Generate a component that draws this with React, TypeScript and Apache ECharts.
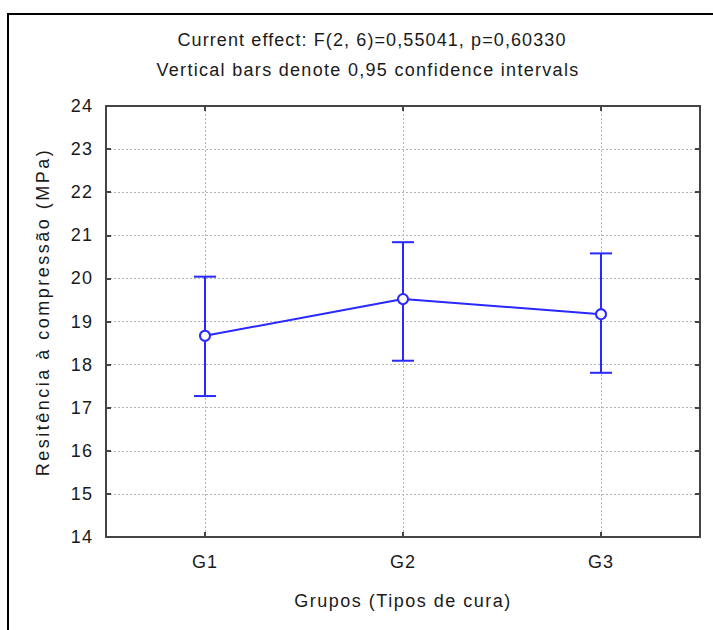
import React, { useEffect, useRef } from "react";
import * as echarts from "echarts";

const categories = ["G1", "G2", "G3"];
const means = [18.67, 19.52, 19.17];
const lowerCI = [17.27, 18.09, 17.81];
const upperCI = [20.04, 20.84, 20.58];
const yTicks = { min: 14, max: 24, interval: 1 };

const titleLine1 = "Current effect: F(2, 6)=0,55041, p=0,60330";
const titleLine2 = "Vertical bars denote 0,95 confidence intervals";
const xName = "Grupos (Tipos de cura)";
const yName = "Resitência à compressão (MPa)";

const BLUE = "#2828ff";
const FONT = "'Liberation Sans', Arial, sans-serif";
const TEXT = "#1a1a1a";
const AXIS = "#444444";
const FS = 18;

export default function App() {
  const ref = useRef<HTMLDivElement>(null);
  useEffect(() => {
    if (!ref.current) return;
    const el = ref.current;
    const chart = echarts.init(el, undefined, { renderer: "svg" });
    const errData = categories.map((_, i) => [i, lowerCI[i], upperCI[i]]);
    const gridLine = { show: true, lineStyle: { color: "#b4b4b4", type: [2, 2], width: 1 } };
    const spacing = () => {
      el.querySelectorAll("text").forEach((t) => {
        const s = t.textContent || "";
        let ls = "1.1px";
        if (s === yName) ls = "2.5px";
        else if (s === xName) ls = "1.5px";
        else if (s === titleLine2) ls = "1.3px";
        (t as SVGTextElement).style.letterSpacing = ls;
      });
    };
    chart.on("finished", spacing);
    chart.setOption({
      animation: false,
      backgroundColor: "#ffffff",
      textStyle: { fontFamily: FONT },
      grid: { left: 106, top: 106, width: 594, height: 431, containLabel: false },
      graphic: [
        { type: "line", shape: { x1: 7, y1: 14, x2: 713, y2: 14 }, style: { stroke: "#000", lineWidth: 2 } },
        { type: "line", shape: { x1: 8, y1: 14, x2: 8, y2: 630 }, style: { stroke: "#000", lineWidth: 2 } },
        {
          type: "text", x: 372, y: 40,
          style: { text: titleLine1, fill: TEXT, font: `${FS}px ${FONT}`, textAlign: "center", textVerticalAlign: "middle" },
        },
        {
          type: "text", x: 368, y: 70,
          style: { text: titleLine2, fill: TEXT, font: `${FS}px ${FONT}`, textAlign: "center", textVerticalAlign: "middle" },
        },
        {
          type: "text", x: 43, y: 312, rotation: Math.PI / 2,
          style: { text: yName, fill: TEXT, font: `${FS}px ${FONT}`, textAlign: "center", textVerticalAlign: "middle" },
        },
      ],
      xAxis: [
        {
          type: "category",
          data: categories,
          position: "bottom",
          boundaryGap: true,
          name: xName,
          nameLocation: "middle",
          nameGap: 55,
          nameTextStyle: { fontSize: FS, color: TEXT, fontFamily: FONT, verticalAlign: "top" },
          axisLine: { show: true, lineStyle: { color: AXIS, width: 2 } },
          axisTick: { show: true, inside: true, alignWithLabel: true, length: 5, lineStyle: { color: AXIS, width: 2 } },
          axisLabel: { fontSize: FS, color: TEXT, margin: 16, fontFamily: FONT },
          splitLine: { ...gridLine, alignWithLabel: true },
        },
        {
          type: "category",
          data: categories,
          position: "top",
          boundaryGap: true,
          axisLine: { show: true, lineStyle: { color: AXIS, width: 2 } },
          axisTick: { show: true, inside: true, alignWithLabel: true, length: 5, lineStyle: { color: AXIS, width: 2 } },
          axisLabel: { show: false },
          splitLine: { show: false },
        },
      ],
      yAxis: [
        {
          type: "value",
          min: yTicks.min,
          max: yTicks.max,
          interval: yTicks.interval,
          position: "left",
          axisLine: { show: true, lineStyle: { color: AXIS, width: 2 } },
          axisTick: { show: true, inside: true, length: 5, lineStyle: { color: AXIS, width: 2 } },
          axisLabel: { fontSize: FS, color: TEXT, margin: 13, fontFamily: FONT },
          splitLine: gridLine,
        },
        {
          type: "value",
          min: yTicks.min,
          max: yTicks.max,
          interval: yTicks.interval,
          position: "right",
          axisLine: { show: true, lineStyle: { color: AXIS, width: 2 } },
          axisTick: { show: true, inside: true, length: 5, lineStyle: { color: AXIS, width: 2 } },
          axisLabel: { show: false },
          splitLine: { show: false },
        },
      ],
      series: [
        {
          type: "custom",
          xAxisIndex: 0,
          yAxisIndex: 0,
          z: 2,
          encode: { x: 0, y: [1, 2] },
          data: errData,
          renderItem: (params: any, api: any) => {
            const idx = api.value(0);
            const lo = api.coord([idx, api.value(1)]);
            const hi = api.coord([idx, api.value(2)]);
            const half = 11;
            const style = { stroke: BLUE, lineWidth: 2, fill: "none" };
            return {
              type: "group",
              children: [
                { type: "line", shape: { x1: hi[0], y1: hi[1], x2: lo[0], y2: lo[1] }, style },
                { type: "line", shape: { x1: hi[0] - half, y1: hi[1], x2: hi[0] + half, y2: hi[1] }, style },
                { type: "line", shape: { x1: lo[0] - half, y1: lo[1], x2: lo[0] + half, y2: lo[1] }, style },
              ],
            };
          },
        },
        {
          type: "line",
          xAxisIndex: 0,
          yAxisIndex: 0,
          z: 3,
          data: means,
          symbol: "circle",
          symbolSize: 10,
          showSymbol: true,
          lineStyle: { color: BLUE, width: 2 },
          itemStyle: { color: "#ffffff", borderColor: BLUE, borderWidth: 2 },
        },
      ],
    });
    spacing();
    return () => chart.dispose();
  }, []);
  return (
    <div
      ref={ref}
      style={{ position: "fixed", left: 0, top: 0, width: 713, height: 630, background: "#fff" }}
    />
  );
}
